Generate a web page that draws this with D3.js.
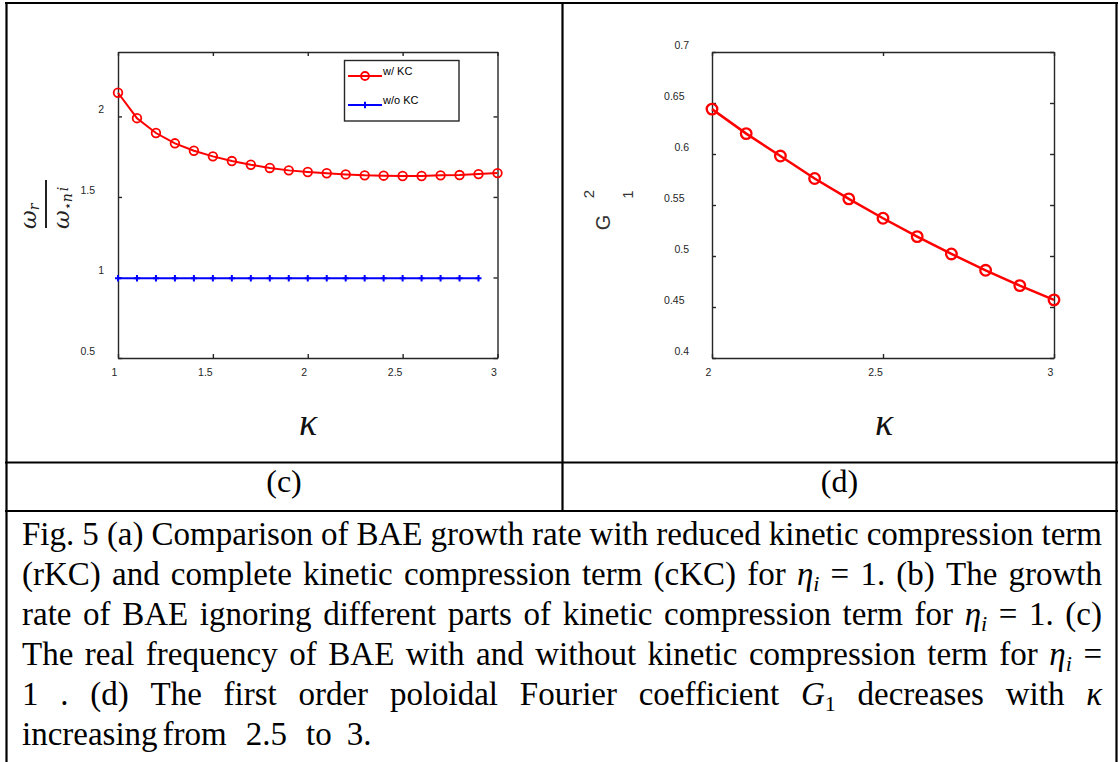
<!DOCTYPE html>
<html>
<head>
<meta charset="utf-8">
<script src="https://cdn.jsdelivr.net/npm/d3@7.9.0/dist/d3.min.js"></script>
<style>
  body { margin: 0; background: #fff; }
  svg { display: block; }
</style>
</head>
<body>
<svg id="fig" width="1119" height="762"></svg>
<script>
// data
const kappaC = [1.0, 1.1, 1.2, 1.3, 1.4, 1.5, 1.6, 1.7, 1.8, 1.9, 2.0, 2.1, 2.2, 2.3, 2.4, 2.5, 2.6, 2.7, 2.8, 2.9, 3.0];
const withKC = [2.147, 1.989, 1.897, 1.833, 1.787, 1.752, 1.723, 1.700, 1.680, 1.665, 1.655, 1.647, 1.640, 1.634, 1.632, 1.630, 1.630, 1.634, 1.636, 1.642, 1.648];
const kappaNoKC = [1.0, 1.1, 1.2, 1.3, 1.4, 1.5, 1.6, 1.7, 1.8, 1.9, 2.0, 2.1, 2.2, 2.3, 2.4, 2.5, 2.6, 2.7, 2.8, 2.9];
const withoutKC = [0.995, 0.995, 0.995, 0.995, 0.995, 0.995, 0.995, 0.995, 0.995, 0.995, 0.995, 0.995, 0.995, 0.995, 0.995, 0.995, 0.995, 0.995, 0.995, 0.995];
const kappaD = [2.0, 2.1, 2.2, 2.3, 2.4, 2.5, 2.6, 2.7, 2.8, 2.9, 3.0];
const G1sq = [0.644, 0.620, 0.598, 0.576, 0.556, 0.537, 0.519, 0.502, 0.486, 0.471, 0.457];

const xTicksC = [1, 1.5, 2, 2.5, 3];
const yTicksC = [0.5, 1, 1.5, 2];
const xTicksD = [2, 2.5, 3];
const yTicksD = [0.4, 0.45, 0.5, 0.55, 0.6, 0.65, 0.7];
const legendLabels = ['w/ KC', 'w/o KC'];

const svg = d3.select('#fig');
const axisColor = '#262626';
const serif = '"Liberation Serif", "DejaVu Serif", serif';

// panel boxes
const pc = { x0: 118, x1: 497.5, y0: 52, y1: 358 };
const pd = { x0: 712, x1: 1054, y0: 52, y1: 358 };

const xC = d3.scaleLinear().domain([1, 3]).range([pc.x0, pc.x1]);
const yC = d3.scaleLinear().domain([0.5, 2.4]).range([pc.y1, pc.y0]);
const xD = d3.scaleLinear().domain([2, 3]).range([pd.x0, pd.x1]);
const yD = d3.scaleLinear().domain([0.4, 0.7]).range([pd.y1, pd.y0]);

// table lines
const tbl = svg.append('g').attr('stroke', '#000').attr('stroke-width', 2.2);
tbl.append('line').attr('x1', 6.5).attr('x2', 6.5).attr('y1', 2).attr('y2', 762);
tbl.append('line').attr('x1', 1116.5).attr('x2', 1116.5).attr('y1', 2).attr('y2', 762);
tbl.append('line').attr('x1', 5).attr('x2', 1118).attr('y1', 3).attr('y2', 3);
tbl.append('line').attr('x1', 562.5).attr('x2', 562.5).attr('y1', 3).attr('y2', 511);
tbl.append('line').attr('x1', 5).attr('x2', 1118).attr('y1', 462.5).attr('y2', 462.5);
tbl.append('line').attr('x1', 5).attr('x2', 1118).attr('y1', 511).attr('y2', 511);

function drawAxes(p, x, y, xt, yt) {
  const g = svg.append('g').attr('color', axisColor)
    .style('font-family', '"Liberation Sans", Arial, sans-serif');
  const fmt = d3.format('~g');

  const bottom = g.append('g').attr('transform', `translate(0,${p.y1})`)
    .call(d3.axisBottom(x).tickValues(xt).tickSizeInner(-4).tickSizeOuter(0).tickPadding(11).tickFormat(fmt));
  bottom.selectAll('text').attr('dx', d => -4 - (fmt(d).length - 1) * 2);

  const left = g.append('g').attr('transform', `translate(${p.x0},0)`)
    .call(d3.axisLeft(y).tickValues(yt).tickSizeInner(-4).tickSizeOuter(0).tickPadding(14).tickFormat(fmt));
  left.selectAll('text').attr('y', -7).attr('dx', d => -(fmt(d).length - 1) * 4.5);

  g.append('g').attr('transform', `translate(0,${p.y0})`)
    .call(d3.axisTop(x).tickValues(xt).tickSizeInner(-4).tickSizeOuter(0).tickFormat(''));
  g.append('g').attr('transform', `translate(${p.x1},0)`)
    .call(d3.axisRight(y).tickValues(yt).tickSizeInner(-4).tickSizeOuter(0).tickFormat(''));

  g.selectAll('.domain, .tick line').attr('stroke-width', 1.4);
  g.selectAll('.tick text').attr('font-size', 10.5).attr('fill', axisColor);
}

drawAxes(pc, xC, yC, xTicksC, yTicksC);
drawAxes(pd, xD, yD, xTicksD, yTicksD);

// panel (c) series
const lineC = d3.line().x(d => xC(d[0])).y(d => yC(d[1]));
const redC = kappaC.map((k, i) => [k, withKC[i]]);
const blueC = kappaNoKC.map((k, i) => [k, withoutKC[i]]);

svg.append('path').attr('d', lineC(blueC)).attr('fill', 'none')
  .attr('stroke', '#0000ff').attr('stroke-width', 2);
svg.append('g').selectAll('path').data(blueC).join('path')
  .attr('transform', d => `translate(${xC(d[0])},${yC(d[1])})`)
  .attr('d', 'M-3,0H3M0,-3.2V3.2').attr('stroke', '#0000ff').attr('stroke-width', 2);

svg.append('path').attr('d', lineC(redC)).attr('fill', 'none')
  .attr('stroke', '#ff0000').attr('stroke-width', 2);
svg.append('g').selectAll('circle').data(redC).join('circle')
  .attr('cx', d => xC(d[0])).attr('cy', d => yC(d[1])).attr('r', 4.3)
  .attr('fill', 'none').attr('stroke', '#ff0000').attr('stroke-width', 1.8);

// legend
const leg = svg.append('g');
leg.append('rect').attr('x', 344.5).attr('y', 60.5).attr('width', 114.5).attr('height', 60.5)
  .attr('fill', '#fff').attr('stroke', axisColor).attr('stroke-width', 1.4);
const legColors = ['#ff0000', '#0000ff'];
const legY = [76, 105];
legendLabels.forEach((lab, i) => {
  leg.append('line').attr('x1', 348).attr('x2', 382).attr('y1', legY[i]).attr('y2', legY[i])
    .attr('stroke', legColors[i]).attr('stroke-width', 2);
  if (i === 0) {
    leg.append('circle').attr('cx', 365).attr('cy', legY[i]).attr('r', 4)
      .attr('fill', 'none').attr('stroke', legColors[i]).attr('stroke-width', 1.8);
  } else {
    leg.append('path').attr('transform', `translate(365,${legY[i]})`)
      .attr('d', 'M-3,0H3M0,-3.2V3.2').attr('stroke', legColors[i]).attr('stroke-width', 2);
  }
  leg.append('text').attr('x', 383).attr('y', legY[i] - 1)
    .attr('font-family', '"Liberation Sans", Arial, sans-serif').attr('font-size', 11)
    .attr('fill', '#000').text(lab);
});

// panel (c) y label: omega_r / omega_*ni (rotated)
const yl = svg.append('g').attr('transform', 'translate(46,204) rotate(-90)')
  .attr('font-family', '"DejaVu Serif", serif').attr('fill', '#222');
yl.append('line').attr('x1', -24).attr('x2', 24).attr('y1', 0).attr('y2', 0)
  .attr('stroke', '#222').attr('stroke-width', 2);
const num = yl.append('text').attr('x', -25).attr('y', -10)
  .attr('font-size', 23).attr('font-style', 'italic');
num.append('tspan').text('ω');
num.append('tspan').attr('font-size', 14).attr('dy', 3).text('r');
const den = yl.append('text').attr('x', -25).attr('y', 23)
  .attr('font-size', 23).attr('font-style', 'italic');
den.append('tspan').text('ω');
den.append('tspan').attr('font-size', 13).attr('dy', 3).attr('font-style', 'normal').text('⋆');
den.append('tspan').attr('font-size', 14).text('n');
den.append('tspan').attr('font-size', 14).attr('dy', -4).attr('dx', 2).text('i');

// panel (d) series
const lineD = d3.line().x(d => xD(d[0])).y(d => yD(d[1]));
const redD = kappaD.map((k, i) => [k, G1sq[i]]);
svg.append('path').attr('d', lineD(redD)).attr('fill', 'none')
  .attr('stroke', '#ff0000').attr('stroke-width', 2.5);
svg.append('g').selectAll('circle').data(redD).join('circle')
  .attr('cx', d => xD(d[0])).attr('cy', d => yD(d[1])).attr('r', 5.3)
  .attr('fill', 'none').attr('stroke', '#ff0000').attr('stroke-width', 2.3);

// panel (d) y label, scattered G ^2 _1 pieces
const gl = svg.append('g').attr('font-family', '"Liberation Sans", Arial, sans-serif').attr('fill', '#333');
[['2', 588, 194, 15], ['G', 602.5, 222.5, 20], ['1', 627.5, 194.5, 15]].forEach(([t, x, y, s]) => {
  gl.append('text').attr('transform', `translate(${x},${y}) rotate(-90)`)
    .attr('text-anchor', 'middle').attr('dominant-baseline', 'central')
    .attr('font-size', s).text(t);
});

// kappa x labels
[[308, 435], [884, 435]].forEach(([x, y]) => {
  svg.append('text').attr('x', x).attr('y', y).attr('text-anchor', 'middle')
    .attr('font-family', serif).attr('font-style', 'italic')
    .attr('font-size', 38).attr('fill', '#111').text('κ');
});

// panel captions
[['(c)', 284], ['(d)', 839.5]].forEach(([t, x]) => {
  svg.append('text').attr('x', x).attr('y', 492).attr('text-anchor', 'middle')
    .attr('font-family', serif).attr('font-size', 32).text(t);
});

// figure caption, justified
const eta = [['η', 'i'], ['i', 'sub']];
const captionLines = [
  ['Fig.', '5', '(a)', 'Comparison', 'of', 'BAE', 'growth', 'rate', 'with', 'reduced', 'kinetic', 'compression', 'term'],
  ['(rKC)', 'and', 'complete', 'kinetic', 'compression', 'term', '(cKC)', 'for', eta, '=', '1.', '(b)', 'The', 'growth'],
  ['rate', 'of', 'BAE', 'ignoring', 'different', 'parts', 'of', 'kinetic', 'compression', 'term', 'for', eta, '=', '1.', '(c)'],
  ['The', 'real', 'frequency', 'of', 'BAE', 'with', 'and', 'without', 'kinetic', 'compression', 'term', 'for', eta, '='],
  ['1', '.', '(d)', 'The', 'first', 'order', 'poloidal', 'Fourier', 'coefficient', [['G', 'i'], ['1', 'subn']], 'decreases', 'with', [['κ', 'i']]],
  ['increasing', 'from', '2.5', 'to', '3.']
];
const lastGaps = [5, 19, 19, 15];
const capLeft = 22, capRight = 1102;

captionLines.forEach((words, li) => {
  const y = 545 + li * 40;
  const g = svg.append('g').attr('font-family', serif).attr('font-size', 33).attr('fill', '#000');
  const nodes = words.map(w => {
    const t = g.append('text').attr('y', y);
    const parts = typeof w === 'string' ? [[w, 'n']] : w;
    parts.forEach(([s, st]) => {
      const ts = t.append('tspan').text(s);
      if (st === 'i') ts.attr('font-style', 'italic');
      if (st === 'sub') ts.attr('font-style', 'italic').attr('font-size', 22).attr('dy', 6);
      if (st === 'subn') ts.attr('font-size', 22).attr('dy', 6);
    });
    return t;
  });
  const widths = nodes.map(n => n.node().getComputedTextLength());
  const last = li === captionLines.length - 1;
  const gap = (capRight - capLeft - d3.sum(widths)) / (words.length - 1);
  let x = capLeft;
  nodes.forEach((n, i) => {
    n.attr('x', x);
    x += widths[i] + (last ? (lastGaps[i] || 0) : gap);
  });
});
</script>
</body>
</html>
